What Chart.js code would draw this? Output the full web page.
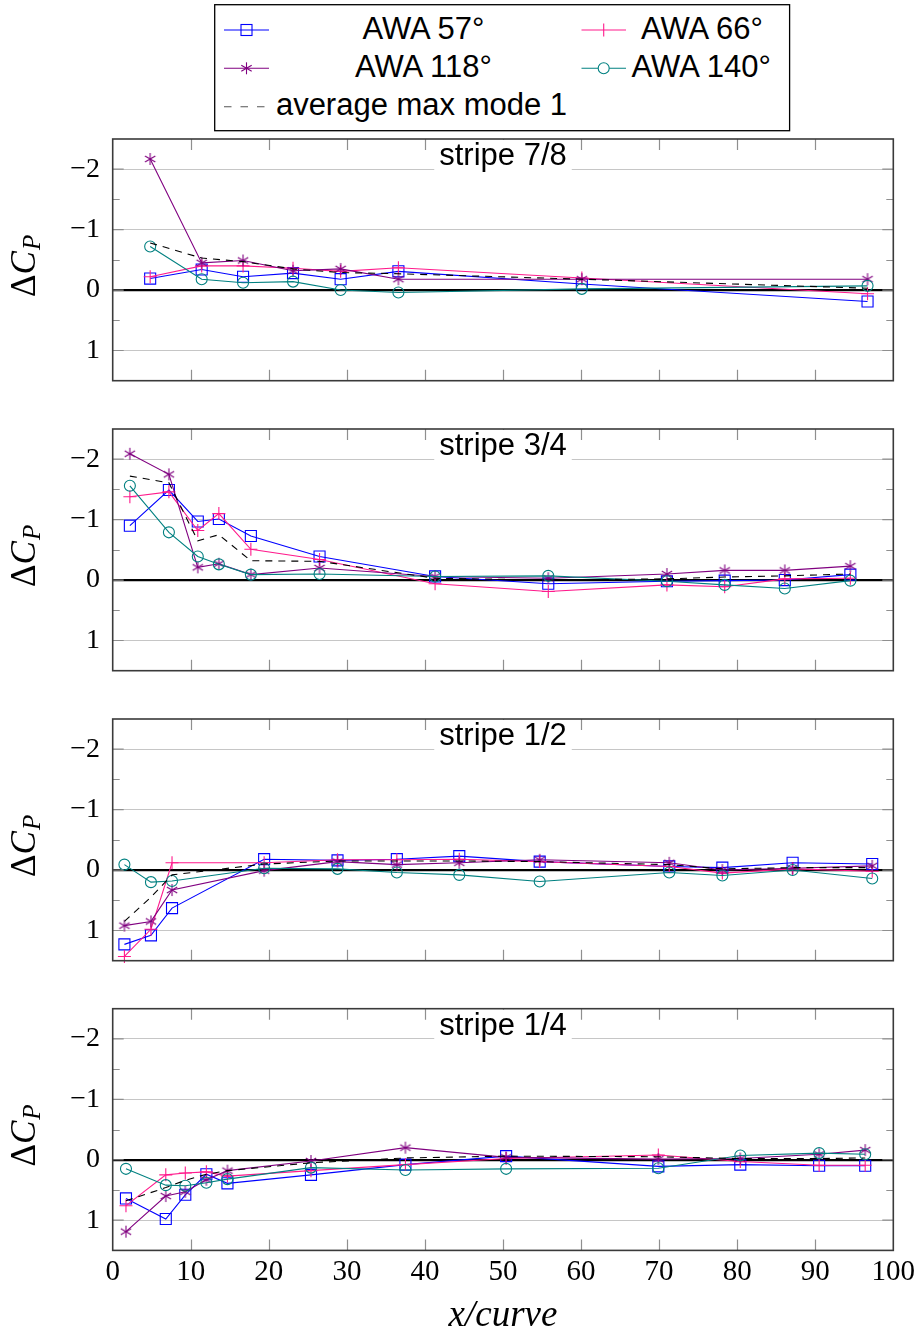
<!DOCTYPE html>
<html>
<head>
<meta charset="utf-8">
<script src="https://cdn.jsdelivr.net/npm/chart.js@4.4.0/dist/chart.umd.min.js"></script>
<style>
  html, body { margin: 0; padding: 0; background: #fff; }
  body { width: 920px; height: 1339px; position: relative; overflow: hidden; }
  #legend { position: absolute; left: 0; top: 0; }
</style>
</head>
<body>
<svg id="legend" width="920" height="140" xmlns="http://www.w3.org/2000/svg"></svg>
<script>
// ---------------- data ----------------
const seriesNames = ['AWA 57°', 'AWA 66°', 'AWA 118°', 'AWA 140°', 'average max mode 1'];
const stripeTitles = ['stripe 7/8', 'stripe 3/4', 'stripe 1/2', 'stripe 1/4'];
const yTickValues = [-2, -1, 0, 1];
const yTickLabels = ['\u22122', '\u22121', '0', '1'];
const yMinorTicks = [-1.5, -0.5, 0.5];
const xTickValues = [0, 10, 20, 30, 40, 50, 60, 70, 80, 90, 100];
const xTickLabels = ['0', '10', '20', '30', '40', '50', '60', '70', '80', '90', '100'];

// stripe 7/8
const x78 = [4.8, 11.4, 16.7, 23.1, 29.2, 36.6, 60.1, 96.7];
const awa57_78 = [-0.19, -0.34, -0.22, -0.28, -0.18, -0.31, -0.10, 0.19];
const awa66_78 = [-0.22, -0.40, -0.40, -0.36, -0.31, -0.37, -0.20, 0.06];
const awa118_78 = [-2.17, -0.45, -0.49, -0.32, -0.35, -0.18, -0.18, -0.18];
const awa140_78 = [-0.72, -0.18, -0.12, -0.14, 0.00, 0.04, -0.02, -0.07];
const avg_78 = [-0.78, -0.53, -0.47, -0.35, -0.29, -0.27, -0.18, -0.03];

// stripe 3/4
const x34 = [2.2, 7.2, 10.9, 13.6, 17.7, 26.5, 41.3, 55.8, 71.0, 78.4, 86.1, 94.5];
const awa57_34 = [-0.90, -1.49, -0.97, -1.01, -0.73, -0.39, -0.06, 0.06, 0.02, 0.01, 0.00, -0.09];
const awa66_34 = [-1.38, -1.46, -0.82, -1.10, -0.51, -0.34, 0.06, 0.19, 0.08, 0.11, -0.02, -0.03];
const awa118_34 = [-2.09, -1.75, -0.21, -0.27, -0.09, -0.20, -0.06, -0.03, -0.10, -0.16, -0.16, -0.23];
const awa140_34 = [-1.56, -0.79, -0.39, -0.26, -0.09, -0.10, -0.06, -0.07, 0.02, 0.08, 0.14, 0.01];
const avg_34 = [-1.72, -1.61, -0.65, -0.75, -0.32, -0.31, -0.03, 0.00, -0.02, -0.05, -0.07, -0.10];

// stripe 1/2
const x12 = [1.5, 4.9, 7.6, 19.4, 28.8, 36.4, 44.4, 54.7, 71.3, 78.1, 87.1, 97.3];
const awa57_12 = [1.23, 1.08, 0.63, -0.18, -0.16, -0.18, -0.23, -0.14, -0.06, -0.04, -0.12, -0.10];
const awa66_12 = [1.43, 0.98, -0.12, -0.12, -0.17, -0.17, -0.18, -0.14, -0.06, 0.05, -0.02, 0.02];
const awa118_12 = [0.92, 0.85, 0.33, 0.01, -0.14, -0.09, -0.12, -0.17, -0.12, 0.00, -0.03, -0.07];
const awa140_12 = [-0.09, 0.20, 0.18, -0.03, -0.02, 0.04, 0.08, 0.19, 0.04, 0.09, 0.00, 0.14];
const avg_12 = [0.85, 0.45, 0.08, -0.10, -0.15, -0.15, -0.15, -0.14, -0.09, -0.02, -0.04, -0.04];

// stripe 1/4
const x14 = [1.7, 6.8, 9.3, 12.0, 14.7, 25.4, 37.5, 50.4, 69.9, 80.4, 90.5, 96.4];
const awa57_14 = [0.64, 0.98, 0.58, 0.24, 0.39, 0.25, 0.08, -0.06, 0.11, 0.08, 0.10, 0.10];
const awa66_14 = [0.76, 0.25, 0.22, 0.20, 0.27, 0.18, 0.08, -0.02, -0.08, 0.03, 0.09, 0.09];
const awa118_14 = [1.19, 0.60, 0.53, 0.33, 0.18, 0.02, -0.20, -0.04, -0.01, -0.02, -0.09, -0.16];
const awa140_14 = [0.15, 0.42, 0.43, 0.38, 0.32, 0.13, 0.17, 0.15, 0.14, -0.07, -0.11, -0.09];
const avg_14 = [0.68, 0.46, 0.34, 0.24, 0.18, 0.05, -0.03, -0.06, -0.05, -0.02, -0.02, -0.03];

// ---------------- style / layout ----------------
const C57 = '#0000ff', C66 = '#ff1a8c', C118 = '#800080', C140 = '#008080', CAVG = '#000000';
const GRID = '#c6c6c6', TICK = '#8f8f8f', FRAME = '#3a3a3a';
const PANEL_TOPS = [139, 429, 719, 1008.7];
const PANEL_H = 241.7;
const PLOT_LEFT = 112.7, PLOT_RIGHT = 893.3;
const SERIF = '"Liberation Serif", "Times New Roman", serif';
const SANS = '"Liberation Sans", Arial, sans-serif';

function makeAsterisk(color, r) {
  const s = Math.ceil(2 * r + 4);
  const c = document.createElement('canvas');
  c.width = s; c.height = s;
  const g = c.getContext('2d');
  g.strokeStyle = color; g.lineWidth = 1.1;
  g.translate(s / 2, s / 2);
  for (let k = 0; k < 3; k++) {
    const a = Math.PI / 2 + k * Math.PI / 3;
    g.beginPath();
    g.moveTo(-r * Math.cos(a), -r * Math.sin(a));
    g.lineTo(r * Math.cos(a), r * Math.sin(a));
    g.stroke();
  }
  return c;
}
const asteriskImg = makeAsterisk(C118, 6);

function pts(xs, ys) { return xs.map((x, i) => ({ x: x, y: ys[i] })); }

function decorPlugin(title, isLast) {
  return {
    id: 'panelDecor',
    afterDraw(chart) {
      const { ctx, chartArea: a, scales } = chart;
      const xs = scales.x, ys = scales.y;
      ctx.save();
      // inward tick marks
      ctx.strokeStyle = TICK; ctx.lineWidth = 1.2;
      ctx.beginPath();
      xTickValues.forEach(v => {
        if (v <= 0 || v >= 100) return;
        const px = Math.round(xs.getPixelForValue(v)) + 0.5;
        ctx.moveTo(px, a.top); ctx.lineTo(px, a.top + 11);
        ctx.moveTo(px, a.bottom); ctx.lineTo(px, a.bottom - 11);
      });
      yTickValues.forEach(v => {
        const py = ys.getPixelForValue(v);
        ctx.moveTo(a.left, py); ctx.lineTo(a.left + 11, py);
        ctx.moveTo(a.right, py); ctx.lineTo(a.right - 11, py);
      });
      yMinorTicks.forEach(v => {
        const py = Math.round(ys.getPixelForValue(v)) + 0.5;
        ctx.moveTo(a.left, py); ctx.lineTo(a.left + 7, py);
        ctx.moveTo(a.right, py); ctx.lineTo(a.right - 7, py);
      });
      ctx.stroke();

      // title box + text
      const cx = (a.left + a.right) / 2;
      ctx.font = '31px ' + SANS;
      const tw = ctx.measureText(title).width;
      ctx.fillStyle = '#fff';
      ctx.fillRect(cx - tw / 2 - 5, a.top + 1, tw + 10, 33);
      ctx.fillStyle = '#000';
      ctx.textAlign = 'center';
      ctx.textBaseline = 'alphabetic';
      ctx.fillText(title, cx, a.top + 26);

      // frame
      ctx.strokeStyle = FRAME; ctx.lineWidth = 1.6;
      ctx.strokeRect(a.left, a.top, a.right - a.left, a.bottom - a.top);

      // y title  ΔC_P
      ctx.save();
      ctx.translate(35, (a.top + a.bottom) / 2 + 6);
      ctx.rotate(-Math.PI / 2);
      ctx.textAlign = 'left';
      ctx.textBaseline = 'alphabetic';
      ctx.fillStyle = '#000';
      const f1 = '35px ' + SERIF, f2 = 'italic 35px ' + SERIF, f3 = 'italic 25px ' + SERIF;
      ctx.font = f1; const w1 = ctx.measureText('\u0394').width;
      ctx.font = f2; const w2 = ctx.measureText('C').width + 1;
      ctx.font = f3; const w3 = ctx.measureText('P').width;
      let sx = -(w1 + w2 + w3) / 2;
      ctx.font = f1; ctx.fillText('\u0394', sx, 0); sx += w1;
      ctx.font = f2; ctx.fillText('C', sx, 0); sx += w2;
      ctx.font = f3; ctx.fillText('P', sx, 5);
      ctx.restore();

      if (isLast) {
        ctx.font = 'italic 37px ' + SERIF;
        ctx.textAlign = 'center';
        ctx.textBaseline = 'alphabetic';
        ctx.fillStyle = '#000';
        ctx.fillText('x/curve', cx, a.bottom + 76);
      }
      ctx.restore();
    }
  };
}

function buildChart(i, xs, y57, y66, y118, y140, yavg) {
  const isLast = i === 3;
  const top = PANEL_TOPS[i];
  const cTop = Math.floor(top) - 10;
  const cH = isLast ? 1339 - cTop : 262;
  const padTop = top - cTop;
  const padBottom = isLast ? 0 : cH - padTop - PANEL_H;
  const xAxisH = isLast ? cH - padTop - PANEL_H : 0;

  const canvas = document.createElement('canvas');
  canvas.width = 920; canvas.height = cH;
  canvas.style.position = 'absolute';
  canvas.style.left = '0px';
  canvas.style.top = cTop + 'px';
  document.body.appendChild(canvas);

  const common = { fill: false, tension: 0, clip: false, borderWidth: 1.1, pointBorderWidth: 1.1,
                   pointBackgroundColor: 'rgba(0,0,0,0)', pointHoverRadius: 0 };

  new Chart(canvas, {
    type: 'line',
    data: {
      datasets: [
        Object.assign({ label: seriesNames[0], data: pts(xs, y57), borderColor: C57, pointBorderColor: C57,
          pointStyle: 'rect', pointRadius: 7.8, order: 5 }, common),
        Object.assign({ label: seriesNames[1], data: pts(xs, y66), borderColor: C66, pointBorderColor: C66,
          pointStyle: 'cross', pointRadius: 6.5, order: 4 }, common),
        Object.assign({ label: seriesNames[2], data: pts(xs, y118), borderColor: C118, pointBorderColor: C118,
          pointStyle: asteriskImg, pointRadius: 6, order: 3 }, common),
        Object.assign({ label: seriesNames[3], data: pts(xs, y140), borderColor: C140, pointBorderColor: C140,
          pointStyle: 'circle', pointRadius: 5.5, order: 2 }, common),
        Object.assign({ label: seriesNames[4], data: pts(xs, yavg), borderColor: CAVG, borderDash: [7, 6],
          pointRadius: 0, order: 1 }, common)
      ]
    },
    options: {
      responsive: false,
      maintainAspectRatio: false,
      animation: false,
      events: [],
      layout: { padding: { left: 0, right: 920 - PLOT_RIGHT, top: padTop, bottom: padBottom } },
      plugins: { legend: { display: false }, tooltip: { enabled: false }, title: { display: false } },
      scales: {
        x: {
          type: 'linear', min: 0, max: 100,
          afterBuildTicks: ax => { ax.ticks = xTickValues.map(v => ({ value: v })); },
          afterFit: ax => { ax.height = xAxisH; ax.paddingLeft = 0; ax.paddingRight = 0; },
          grid: { display: false, drawTicks: false },
          border: { display: false },
          ticks: { display: isLast, padding: 4.5, maxRotation: 0, autoSkip: false, color: '#000',
                   font: { family: SERIF, size: 29 },
                   callback: v => xTickLabels[xTickValues.indexOf(v)] }
        },
        y: {
          type: 'linear', reverse: true, min: -2.5, max: 1.5,
          afterBuildTicks: ax => { ax.ticks = yTickValues.map(v => ({ value: v })); },
          afterFit: ax => { ax.width = PLOT_LEFT; ax.paddingTop = 0; ax.paddingBottom = 0; },
          grid: {
            drawTicks: false,
            color: c => (c.tick && c.tick.value === 0) ? '#000' : GRID,
            lineWidth: c => (c.tick && c.tick.value === 0) ? 2.2 : 1.1
          },
          border: { display: false },
          ticks: { padding: 12.7, color: '#000', font: { family: SERIF, size: 28 },
                   callback: v => yTickLabels[yTickValues.indexOf(v)] }
        }
      }
    },
    plugins: [decorPlugin(stripeTitles[i], isLast)]
  });
}

buildChart(0, x78, awa57_78, awa66_78, awa118_78, awa140_78, avg_78);
buildChart(1, x34, awa57_34, awa66_34, awa118_34, awa140_34, avg_34);
buildChart(2, x12, awa57_12, awa66_12, awa118_12, awa140_12, avg_12);
buildChart(3, x14, awa57_14, awa66_14, awa118_14, awa140_14, avg_14);

// ---------------- legend ----------------
(function () {
  const svg = document.getElementById('legend');
  const NS = 'http://www.w3.org/2000/svg';
  function el(tag, attrs, text) {
    const e = document.createElementNS(NS, tag);
    for (const k in attrs) e.setAttribute(k, attrs[k]);
    if (text !== undefined) e.textContent = text;
    svg.appendChild(e);
    return e;
  }
  el('rect', { x: 214.7, y: 4.7, width: 574.9, height: 126, fill: '#fff', stroke: '#000', 'stroke-width': 1.3 });
  const rows = [30, 68.3, 106.7];
  const baselines = [38.5, 76.8, 115];
  const cols = [{ x1: 224, x2: 269, cx: 246.5 }, { x1: 581.5, x2: 626, cx: 603.7 }];
  const entries = [
    { col: 0, row: 0, color: C57, mark: 'square', tx: 362.4, text: seriesNames[0] },
    { col: 1, row: 0, color: C66, mark: 'plus', tx: 640.9, text: seriesNames[1] },
    { col: 0, row: 1, color: C118, mark: 'asterisk', tx: 354.9, text: seriesNames[2] },
    { col: 1, row: 1, color: C140, mark: 'circle', tx: 631.5, text: seriesNames[3] },
    { col: 0, row: 2, color: '#555', mark: 'dash', tx: 275.9, text: seriesNames[4] }
  ];
  entries.forEach(en => {
    const c = cols[en.col], y = rows[en.row];
    const line = { x1: c.x1, y1: y, x2: en.mark === 'dash' ? 265 : c.x2, y2: y, stroke: en.color, 'stroke-width': 1.1, fill: 'none' };
    if (en.mark === 'dash') line['stroke-dasharray'] = '7.5 9';
    el('line', line);
    const st = { stroke: en.color, 'stroke-width': 1.1, fill: 'none' };
    if (en.mark === 'square') el('rect', Object.assign({ x: c.cx - 5.5, y: y - 5.5, width: 11, height: 11 }, st));
    if (en.mark === 'plus') {
      el('line', Object.assign({ x1: c.cx, y1: y - 6.5, x2: c.cx, y2: y + 6.5 }, st));
    }
    if (en.mark === 'asterisk') {
      for (let k = 0; k < 3; k++) {
        const a = Math.PI / 2 + k * Math.PI / 3, r = 6;
        el('line', Object.assign({ x1: c.cx - r * Math.cos(a), y1: y - r * Math.sin(a),
                                   x2: c.cx + r * Math.cos(a), y2: y + r * Math.sin(a) }, st));
      }
    }
    if (en.mark === 'circle') el('circle', Object.assign({ cx: c.cx, cy: y, r: 5.5, fill: '#fff' }, { stroke: en.color, 'stroke-width': 1.1 }));
    el('text', { x: en.tx, y: baselines[en.row], 'font-family': 'Liberation Sans, Arial, sans-serif',
                 'font-size': 31, fill: '#000' }, en.text);
  });
})();
</script>
</body>
</html>
